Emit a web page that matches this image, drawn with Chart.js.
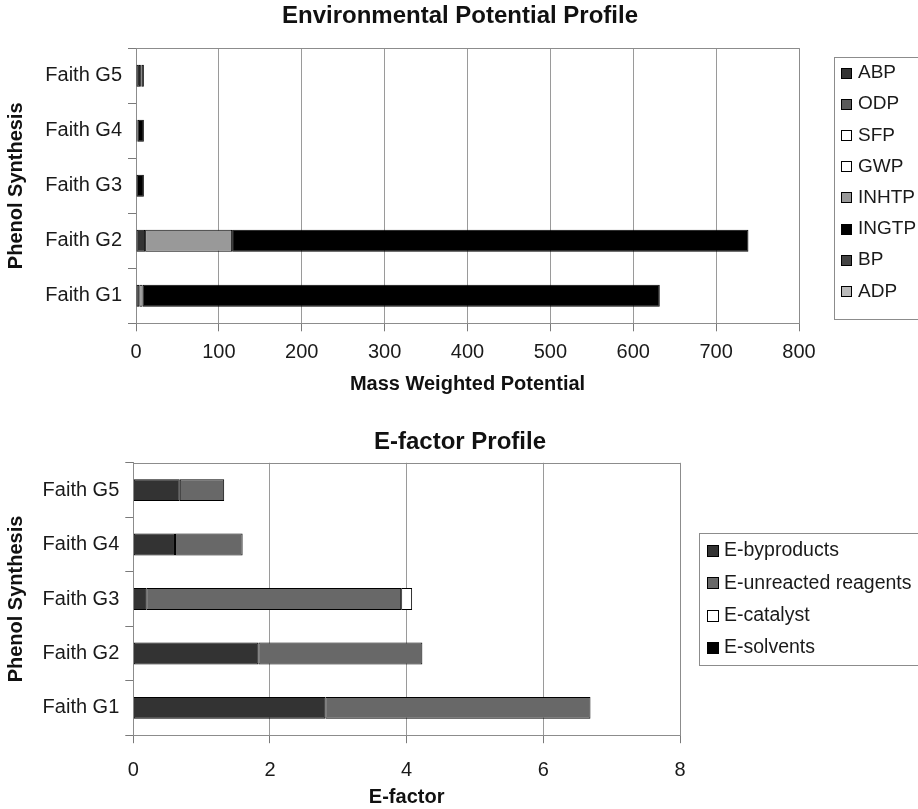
<!DOCTYPE html>
<html><head><meta charset="utf-8">
<script src="https://cdn.jsdelivr.net/npm/chart.js@4.4.1/dist/chart.umd.min.js"></script>
<style>
html,body{margin:0;padding:0;background:#fff;overflow:hidden;width:918px;height:809px;}
#c1{position:absolute;left:0;top:0;}
#c2{position:absolute;left:0;top:405px;}
</style></head><body>
<canvas id="c1" width="918" height="405"></canvas>
<canvas id="c2" width="918" height="404"></canvas>
<script>
// ---------- data ----------
const categories = ['Faith G1','Faith G2','Faith G3','Faith G4','Faith G5'];

const envSeries = ['ABP','ODP','SFP','GWP','INHTP','INGTP','BP','ADP'];
const ABP   = [4, 11, 0, 0, 5];
const ODP   = [0, 0, 0, 0, 0];
const SFP   = [0, 0, 0, 0, 0];
const GWP   = [0, 0, 0, 2, 1.5];
const INHTP = [4, 105, 0, 0, 0];
const INGTP = [624, 623, 9.5, 7.5, 3];
const BP    = [0, 0, 0, 0, 0];
const ADP   = [0, 0, 0, 0, 0];
const envTicks = [0, 100, 200, 300, 400, 500, 600, 700, 800];

const eSeries = ['E-byproducts','E-unreacted reagents','E-catalyst','E-solvents'];
const eByproducts = [2.81, 1.83, 0.19, 0.61, 0.68];
const eUnreacted  = [3.88, 2.40, 3.73, 0.99, 0.65];
const eCatalyst   = [0, 0, 0.16, 0, 0];
const eSolvents   = [0, 0, 0, 0, 0];
const eTicks = [0, 2, 4, 6, 8];

// ---------- styles ----------
const FAM = '"Liberation Sans", Arial, Helvetica, sans-serif';
const envColors = ['#333333','#5a5a5a','#ffffff','#ffffff','#999999','#000000','#444444','#bbbbbb'];
const eColors = ['#333333','#686868','#ffffff','#000000'];

const frame = {
  id:'frame',
  beforeDatasetsDraw(chart){
    const a = chart.chartArea, ctx = chart.ctx;
    ctx.save();
    ctx.strokeStyle = '#8c8c8c'; ctx.lineWidth = 1;
    ctx.beginPath();
    ctx.moveTo(Math.round(a.left)+0.5, Math.round(a.top)+0.5);
    ctx.lineTo(Math.round(a.right)+0.5, Math.round(a.top)+0.5);
    ctx.lineTo(Math.round(a.right)+0.5, Math.round(a.bottom)+0.5);
    ctx.stroke();
    ctx.restore();
  }
};

const headTitle = {
  id:'headTitle',
  afterDraw(chart, args, o){
    const ctx = chart.ctx;
    ctx.save();
    ctx.font = 'bold ' + o.size + 'px ' + FAM;
    ctx.fillStyle = '#111';
    ctx.textAlign = 'center'; ctx.textBaseline = 'middle';
    ctx.fillText(o.text, o.x, o.y);
    ctx.restore();
  }
};

const boxLegend = {
  id:'boxLegend',
  afterDraw(chart, args, o){
    const ctx = chart.ctx;
    ctx.save();
    ctx.strokeStyle = '#8c8c8c'; ctx.lineWidth = 1;
    ctx.strokeRect(o.x+0.5, o.y+0.5, o.w, o.h);
    ctx.font = o.fontSize + 'px ' + FAM;
    ctx.textBaseline = 'middle'; ctx.textAlign = 'left';
    chart.data.datasets.forEach((ds, i) => {
      const cy = o.y0 + i*o.dy;
      const s = o.box;
      const top = Math.round(cy - s/2);
      ctx.fillStyle = ds.backgroundColor;
      ctx.fillRect(o.mx, top, s, s);
      ctx.strokeStyle = '#000';
      ctx.strokeRect(o.mx+0.5, top+0.5, s-1, s-1);
      ctx.fillStyle = '#1a1a1a';
      ctx.fillText(ds.label, o.tx, cy);
    });
    ctx.restore();
  }
};

function buildDatasets(names, arrays, colors){
  return names.map((n, i) => ({
    label: n,
    data: arrays[i],
    backgroundColor: colors[i],
    borderColor: '#000',
    borderWidth: 1,
    borderSkipped: false,
    barPercentage: 0.4,
    categoryPercentage: 1.0
  }));
}

function makeChart(id, c){
  return new Chart(document.getElementById(id), {
    type:'bar',
    data:{ labels: categories, datasets: c.datasets },
    plugins:[frame, boxLegend, headTitle],
    options:{
      responsive:false, animation:false, indexAxis:'y',
      layout:{ padding:{ left:0, right:c.padRight, top:c.padTop, bottom:0 } },
      plugins:{
        legend:{ display:false }, tooltip:{ enabled:false }, title:{ display:false },
        headTitle:{ text:c.title, x:460, y:c.titleY, size:24 },
        boxLegend: c.legend
      },
      scales:{
        x:{
          stacked:true, min:0, max:c.max,
          afterBuildTicks(s){ s.ticks = c.ticks.map(v => ({ value:v })); },
          afterFit(s){ s.height = c.xHeight; },
          grid:{ color:'#9a9a9a', tickColor:'#7a7a7a', tickLength:8, lineWidth:1 },
          border:{ color:'#8c8c8c' },
          ticks:{ color:'#1a1a1a', font:{ family:FAM, size:20 }, padding:c.xTickPad, maxRotation:0 },
          title:{ display:true, text:c.xTitle, color:'#111',
            font:{ family:FAM, size:20, weight:'bold' }, padding:{ top:0, bottom:c.xTitlePad } }
        },
        y:{
          stacked:true, reverse:true,
          afterFit(s){ s.width = c.yWidth; },
          grid:{ drawOnChartArea:false, tickLength:8, color:'#7a7a7a', offset:true },
          border:{ color:'#8c8c8c' },
          ticks:{ color:'#1a1a1a', font:{ family:FAM, size:20 }, padding:6 },
          title:{ display:true, text:'Phenol Synthesis', color:'#111',
            font:{ family:FAM, size:20, weight:'bold' }, padding:{ top:4, bottom:0 } }
        }
      }
    }
  });
}

makeChart('c1', {
  datasets: buildDatasets(envSeries, [ABP, ODP, SFP, GWP, INHTP, INGTP, BP, ADP], envColors),
  title:'Environmental Potential Profile', titleY:16, padTop:48.3,
  padRight:119, max:800, ticks:envTicks, xHeight:81.7, xTickPad:8.7,
  xTitle:'Mass Weighted Potential', xTitlePad:9, yWidth:136,
  legend:{ x:834, y:57, w:100, h:262, y0:73, dy:31.2, mx:841, box:11, tx:858, fontSize:19 }
});

makeChart('c2', {
  datasets: buildDatasets(eSeries, [eByproducts, eUnreacted, eCatalyst, eSolvents], eColors),
  title:'E-factor Profile', titleY:37, padTop:57.8,
  padRight:238, max:8, ticks:eTicks, xHeight:73.8, xTickPad:14.8,
  xTitle:'E-factor', xTitlePad:0, yWidth:133.3,
  legend:{ x:699, y:128, w:240, h:132, y0:146, dy:32.3, mx:707, box:12, tx:724, fontSize:19.5 }
});
</script>
</body></html>
